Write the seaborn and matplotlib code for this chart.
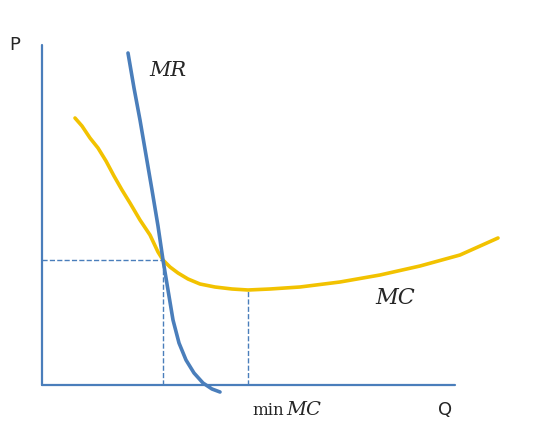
import matplotlib
matplotlib.use("Agg")
import matplotlib.pyplot as plt
import seaborn as sns

# curve points (x right, y up, in drawing units)
mc_x = [75, 82, 90, 98, 106, 114, 122, 130, 140, 150, 158, 163, 170, 178, 188, 200, 215, 232, 248, 270, 300, 340, 380, 420, 460, 498]
mc_y = [330, 322, 310, 300, 287, 272, 258, 245, 228, 213, 196, 188, 181, 175, 169, 164, 161, 159, 158, 159, 161, 166, 173, 182, 193, 210]
mr_x = [128, 134, 140, 146, 152, 158, 163, 168, 173, 179, 186, 194, 203, 212, 220]
mr_y = [395, 360, 328, 293, 258, 222, 188, 158, 128, 105, 88, 75, 65, 59, 56]

eq_x, eq_y = 163, 188
min_x, min_y = 248, 158
origin = (42, 63)

blue = "#4a7ebb"
gold = "#f2c200"

sns.set_style("white")
fig = plt.figure(figsize=(5.4, 4.48), dpi=100)
ax = fig.add_axes([0, 0, 1, 1])

sns.lineplot(x=mc_x, y=mc_y, ax=ax, color=gold, lw=2.6, sort=False)
sns.lineplot(x=mr_x, y=mr_y, ax=ax, color=blue, lw=2.6, sort=False)

# axes
ax.plot([origin[0], origin[0]], [origin[1], 403], color=blue, lw=1.6)
ax.plot([origin[0], 455], [origin[1], origin[1]], color=blue, lw=1.6)

# dashed guides
ax.plot([origin[0], eq_x], [eq_y, eq_y], color=blue, lw=1, ls="--")
ax.plot([eq_x, eq_x], [origin[1], eq_y], color=blue, lw=1, ls="--")
ax.plot([min_x, min_x], [origin[1], min_y], color=blue, lw=1, ls="--")

ax.text(15, 403, "P", fontsize=13, ha="center", va="center")
ax.text(445, 38, "Q", fontsize=13, ha="center", va="center")
ax.text(168, 378, "MR", fontsize=15, family="DejaVu Serif", style="italic", ha="center", va="center")
ax.text(395, 150, "MC", fontsize=16, family="DejaVu Serif", style="italic", ha="center", va="center")
ax.text(284, 38, "min", fontsize=12, family="DejaVu Serif", ha="right", va="center")
ax.text(286, 38, "MC", fontsize=14, family="DejaVu Serif", style="italic", ha="left", va="center")

ax.set_xlim(0, 540)
ax.set_ylim(0, 448)
ax.axis("off")
fig.savefig("out.png", dpi=100)
